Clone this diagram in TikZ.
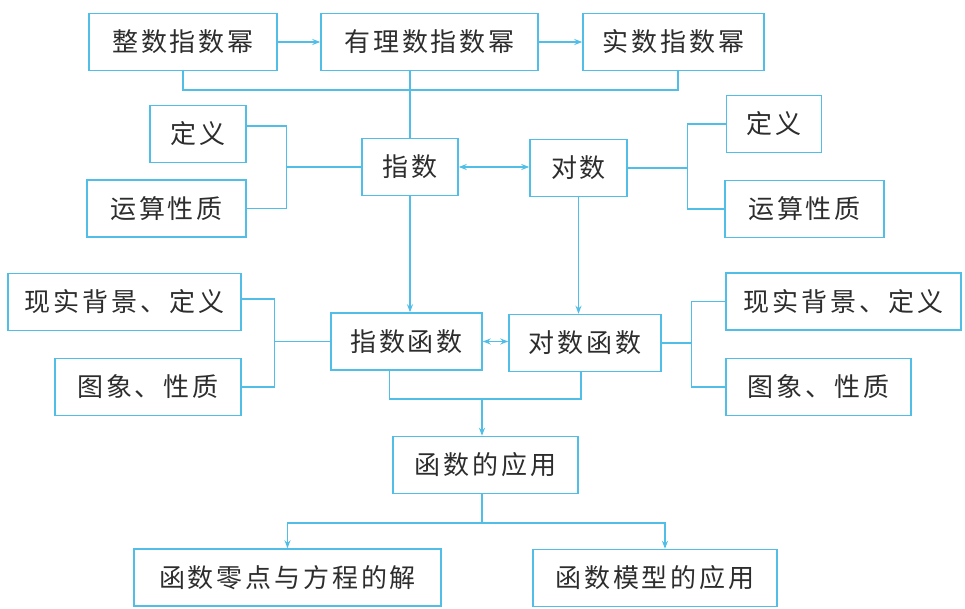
\documentclass[tikz,border=0pt]{standalone}
\usepackage{fontspec}
\newfontfamily\cjk[LetterSpace=11]{Noto Sans CJK SC}
\usetikzlibrary{arrows.meta,calc}
\definecolor{lineblue}{RGB}{80,190,230}
\definecolor{txtgray}{RGB}{45,45,45}

\begin{document}
\begin{tikzpicture}[x=0.75pt,y=-0.75pt,
  box/.style={draw=lineblue,line width=1.1pt,inner sep=0pt,minimum height=0.75*57pt,
    text=txtgray,font=\cjk\fontsize{19.5}{22}\selectfont},
  bw/.style={minimum width=0.75*#1pt},
  link/.style={draw=lineblue,line width=1.1pt},
  tip/.style={link,-{Stealth[length=6pt,width=4.5pt]}},
  both/.style={link,{Stealth[length=6pt,width=4.5pt]}-{Stealth[length=6pt,width=4.5pt]}}]
  \useasboundingbox (0,0) rectangle (965,609);
  % powers
  \node[box,bw=188] (zs) at (183,42) {整数指数幂};
  \node[box,bw=217] (yl) at (429.5,42) {有理数指数幂};
  \node[box,bw=181] (ss) at (673.5,42) {实数指数幂};
  % exponent and logarithm
  \node[box,bw=96] (zhi) at (410,167) {指数};
  \node[box,bw=97] (dui) at (578.5,168) {对数};
  \node[box,bw=96] (dy1) at (198,134) {定义};
  \node[box,bw=159] (ys1) at (166.5,208.5) {运算性质};
  \node[box,bw=95] (dy2) at (774,124) {定义};
  \node[box,bw=159] (ys2) at (804.5,209) {运算性质};
  % functions
  \node[box,bw=151] (zf) at (406.5,341.5) {指数函数};
  \node[box,bw=152] (df) at (585,343) {对数函数};
  \node[box,bw=233] (bj1) at (124.5,302) {现实背景、定义};
  \node[box,bw=186] (tx1) at (148,387) {图象、性质};
  \node[box,bw=235] (bj2) at (843.5,301.5) {现实背景、定义};
  \node[box,bw=185] (tx2) at (818.5,387) {图象、性质};
  % applications
  \node[box,bw=185] (yy) at (485.5,465) {函数的应用};
  \node[box,bw=307] (ld) at (287.5,577.5) {函数零点与方程的解};
  \node[box,bw=244] (mx) at (655,578) {函数模型的应用};

  \draw[tip] (zs) -- (yl);
  \draw[tip] (yl) -- (ss);
  \draw[link] (zs.south) -- ++(0,19) -| ($(ss.south)+(4.5,0)$);
  \draw[link] (yl.south -| zhi.north) -- (zhi.north);
  \draw[both] (zhi.east) -- (zhi.east -| dui.west);
  \draw[link] (zhi.west) -- ++(-75,0) coordinate (b1);
  \draw[link] ($(dy1.east)+(0,-8)$) -| (b1) |- (ys1.east);
  \draw[link] (dui.east) -- ++(60,0) coordinate (b2);
  \draw[link] (dy2.west) -| (b2) |- (ys2.west);

  \draw[tip] (zhi.south) -- (zhi.south |- zf.north);
  \draw[tip] (dui.south) -- (dui.south |- df.north);
  \draw[both] (zf.east) -- (zf.east -| df.west);
  \draw[link] (zf.west) -- ++(-56,0) coordinate (b3);
  \draw[link] ($(bj1.east)+(0,-3)$) -| (b3) |- (tx1.east);
  \draw[link] (df.east) -- ++(30,0) coordinate (b4);
  \draw[link] (bj2.west) -| (b4) |- (tx2.west);

  \coordinate (j1) at (482,399);
  \draw[link] ($(zf.south)+(-17,0)$) |- (j1) -| ($(df.south)+(-4,0)$);
  \draw[tip] (j1) -- (j1 |- yy.north);
  \coordinate (j2) at (482,523);
  \draw[link] (yy.south -| j2) -- (j2);
  \draw[tip] (j2) -| (ld.north);
  \draw[tip] (j2) -| ($(mx.north)+(10,0)$);
\end{tikzpicture}
\end{document}
